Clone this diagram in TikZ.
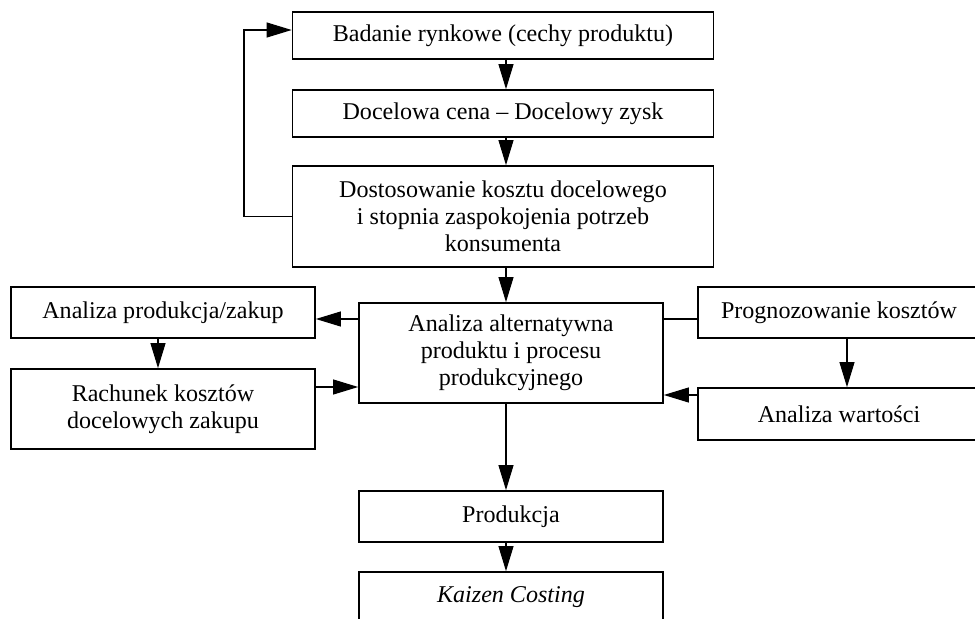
\documentclass[tikz,border=0pt]{standalone}
\usepackage{fontspec}
\setmainfont{Liberation Serif}
\usetikzlibrary{positioning,arrows.meta}

\begin{document}
\begin{tikzpicture}[
  x=0.02cm, y=-0.02cm,
  box/.style={draw, line width=1pt, align=center, inner sep=2pt, font=\fontsize{13.7}{15.4}\selectfont},
  arrow/.style={-{Triangle[length=0.5cm,width=0.3cm]}, line width=0.6pt},
  link/.style={line width=0.6pt}
]
\useasboundingbox (0,0) rectangle (975,619);
% main column
\node[box, minimum width=8.42cm, minimum height=0.94cm] (badanie) at (503,35.5) {Badanie rynkowe (cechy produktu)};
\node[box, minimum width=8.42cm, minimum height=0.94cm] (cena) at (503,113.5) {Docelowa cena -- Docelowy zysk};
\node[box, minimum width=8.42cm, minimum height=2.02cm] (dostos) at (503,216.5) {Dostosowanie kosztu docelowego\\i stopnia zaspokojenia potrzeb\\konsumenta};
\node[box, minimum width=6.08cm, minimum height=2cm] (alt) at (511,353) {Analiza alternatywna\\produktu i procesu\\produkcyjnego};
\node[box, minimum width=6.08cm, minimum height=1.02cm] (produkcja) at (511,516.5) {Produkcja};
\node[box, minimum width=6.08cm, minimum height=1.02cm] (kaizen) at (511,597.5) {\textit{Kaizen Costing}};
% left side
\node[box, minimum width=6.08cm, minimum height=1.02cm] (zakup) at (163,312.5) {Analiza produkcja/zakup};
\node[box, minimum width=6.08cm, minimum height=1.6cm] (rachunek) at (163,409) {Rachunek kosztów\\docelowych zakupu};
% right side
\node[box, minimum width=5.64cm, minimum height=1.02cm] (prognoza) at (839,312.5) {Prognozowanie kosztów};
\node[box, minimum width=5.64cm, minimum height=1.04cm] (wartosc) at (839,414) {Analiza wartości};

% helper lines
\coordinate (colx) at (506,0);
\coordinate (coll) at (158,0);
\coordinate (colr) at (847,0);
\coordinate (loop) at (244,0);
\coordinate (rowa) at (0,319);
\coordinate (rowb) at (0,387);
\coordinate (rowc) at (0,395);
\coordinate (rowt) at (0,30);

\draw[arrow] (badanie.south -| colx) -- (cena.north -| colx);
\draw[arrow] (cena.south -| colx) -- (dostos.north -| colx);
\draw[arrow] (dostos.south -| colx) -- (alt.north -| colx);
\draw[arrow] (alt.south -| colx) -- (produkcja.north -| colx);
\draw[arrow] (produkcja.south -| colx) -- (kaizen.north -| colx);
\draw[arrow] (dostos.west) -- (loop |- dostos.west) -- (loop |- rowt) -- (badanie.west |- rowt);
\draw[arrow] (alt.west |- rowa) -- (zakup.east |- rowa);
\draw[arrow] (zakup.south -| coll) -- (rachunek.north -| coll);
\draw[arrow] (rachunek.east |- rowb) -- (alt.west |- rowb);
\draw[link] (alt.east |- rowa) -- (prognoza.west |- rowa);
\draw[arrow] (prognoza.south -| colr) -- (wartosc.north -| colr);
\draw[arrow] (wartosc.west |- rowc) -- (alt.east |- rowc);
\end{tikzpicture}
\end{document}
